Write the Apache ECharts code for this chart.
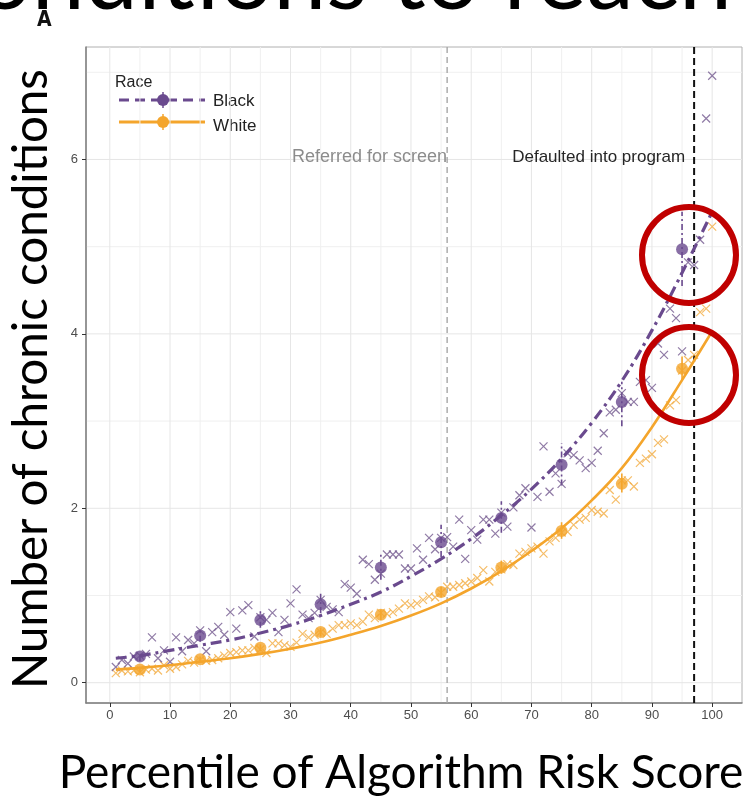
<!DOCTYPE html>
<html>
<head>
<meta charset="utf-8">
<script src="https://cdn.jsdelivr.net/npm/echarts@6/dist/echarts.min.js"></script>
<style>
  html, body { margin: 0; padding: 0; background: #fff; }
  #chart { width: 750px; height: 796px; }
</style>
</head>
<body>
<div id="chart"></div>
<script>
// Chronic conditions by percentile of algorithm risk score, split by race.

// Per-percentile averages (percentiles 1..100)
const blackByPercentile = [
  0.18, 0.26, 0.22, 0.30, 0.31, 0.33, 0.52, 0.28, 0.37, 0.24,
  0.52, 0.36, 0.49, 0.45, 0.60, 0.36, 0.58, 0.64, 0.55, 0.81,
  0.62, 0.83, 0.89, 0.53, 0.75, 0.72, 0.80, 0.58, 0.72, 0.91,
  1.07, 0.78, 0.74, 0.80, 0.95, 0.87, 0.84, 0.81, 1.13, 1.09,
  1.02, 1.41, 1.36, 1.18, 1.25, 1.47, 1.47, 1.47, 1.31, 1.31,
  1.54, 1.41, 1.66, 1.53, 1.66, 1.67, 1.56, 1.87, 1.42, 1.75,
  1.64, 1.87, 1.87, 1.71, 1.95, 1.79, 2.01, 2.15, 2.23, 1.78,
  2.13, 2.71, 2.19, 2.40, 2.28, 2.63, 2.61, 2.55, 2.46, 2.52,
  2.66, 2.86, 3.10, 3.13, 3.32, 3.22, 3.22, 3.45, 3.47, 3.38,
  3.89, 3.76, 4.29, 4.18, 3.80, 4.82, 4.79, 5.08, 6.47, 6.96
];
const whiteByPercentile = [
  0.11, 0.14, 0.13, 0.14, 0.12, 0.15, 0.16, 0.14, 0.20, 0.16,
  0.18, 0.21, 0.25, 0.23, 0.26, 0.25, 0.26, 0.28, 0.31, 0.34,
  0.35, 0.37, 0.37, 0.40, 0.38, 0.34, 0.45, 0.45, 0.43, 0.41,
  0.46, 0.56, 0.52, 0.55, 0.58, 0.56, 0.62, 0.66, 0.66, 0.68,
  0.66, 0.70, 0.78, 0.74, 0.80, 0.79, 0.81, 0.85, 0.91, 0.89,
  0.91, 0.95, 0.99, 0.98, 1.03, 1.10, 1.10, 1.12, 1.14, 1.16,
  1.20, 1.29, 1.16, 1.27, 1.30, 1.36, 1.35, 1.48, 1.50, 1.54,
  1.56, 1.48, 1.62, 1.66, 1.72, 1.73, 1.81, 1.87, 1.89, 1.98,
  1.96, 1.94, 2.21, 2.10, 2.32, 2.32, 2.25, 2.52, 2.57, 2.62,
  2.75, 2.79, 3.18, 3.24, 3.58, 3.70, 3.76, 4.25, 4.29, 5.23
];

// Fitted curves
const fitX     = [1, 5, 10, 15, 20, 25, 30, 35, 40, 45, 50, 55, 60, 65, 70, 75, 80, 85, 90, 95, 100];
const fitBlack = [0.28, 0.31, 0.37, 0.43, 0.49, 0.57, 0.66, 0.77, 0.90, 1.04, 1.22, 1.42, 1.65, 1.92, 2.22, 2.57, 2.98, 3.46, 4.04, 4.70, 5.40];
const fitWhite = [0.15, 0.17, 0.20, 0.24, 0.28, 0.33, 0.39, 0.46, 0.55, 0.65, 0.77, 0.91, 1.08, 1.28, 1.51, 1.77, 2.09, 2.46, 2.93, 3.47, 4.03];

// Decile means with intervals
const decileX   = [5, 15, 25, 35, 45, 55, 65, 75, 85, 95];
const blackMean = [0.30, 0.54, 0.72, 0.90, 1.32, 1.61, 1.89, 2.50, 3.22, 4.97];
const blackLow  = [0.25, 0.47, 0.63, 0.80, 1.18, 1.44, 1.72, 2.26, 2.94, 4.55];
const blackHigh = [0.35, 0.61, 0.82, 1.02, 1.48, 1.81, 2.08, 2.75, 3.45, 5.40];
const whiteMean = [0.15, 0.27, 0.40, 0.58, 0.78, 1.04, 1.32, 1.74, 2.28, 3.60];
const whiteLow  = [0.12, 0.24, 0.36, 0.53, 0.72, 0.98, 1.25, 1.65, 2.18, 3.46];
const whiteHigh = [0.18, 0.30, 0.44, 0.63, 0.84, 1.10, 1.40, 1.84, 2.40, 3.74];

// Program thresholds and their captions
const thresholdX    = [56, 97];
const thresholdText = ['Referred for screen', 'Defaulted into program'];

// Ticks and grid lines
const xTicks  = [0, 10, 20, 30, 40, 50, 60, 70, 80, 90, 100];
const xMinor  = [5, 15, 25, 35, 45, 55, 65, 75, 85, 95];
const yTicks  = [0, 2, 4, 6];
const yMinor  = [1, 3, 5, 7];

// ---------------------------------------------------------------
const PURPLE = '#6a4a8e';
const ORANGE = '#f4a52c';
const X_MIN = -3.95, X_MAX = 104.95;
const Y_MIN = -0.233, Y_MAX = 7.29;
const CAPTION_Y = 6.03;

const pctIndex = blackByPercentile.map((_, i) => i + 1);
const pair = (xs, ys) => xs.map((x, i) => [x, ys[i]]);

const gridRows = []
  .concat(xMinor.map(v => [v, 0, 0, 0]))
  .concat(yMinor.map(v => [0, v, 1, 0]))
  .concat(xTicks.map(v => [v, 0, 0, 1]))
  .concat(yTicks.map(v => [0, v, 1, 1]));

function renderGridLine(params, api) {
  const vertical = api.value(2) === 0;
  const major = api.value(3) === 1;
  let a, b;
  if (vertical) {
    a = api.coord([api.value(0), Y_MIN]);
    b = api.coord([api.value(0), Y_MAX]);
  } else {
    a = api.coord([X_MIN, api.value(1)]);
    b = api.coord([X_MAX, api.value(1)]);
  }
  return {
    type: 'line',
    shape: { x1: a[0], y1: a[1], x2: b[0], y2: b[1] },
    style: { stroke: major ? '#e6e6e6' : '#f0f0f0', lineWidth: 1 }
  };
}

function renderThreshold(params, api) {
  const a = api.coord([api.value(0), Y_MIN]);
  const b = api.coord([api.value(0), Y_MAX]);
  const dark = params.dataIndex === 1;
  return {
    type: 'line',
    shape: { x1: a[0], y1: a[1], x2: b[0], y2: b[1] },
    style: {
      stroke: dark ? '#111' : '#a6a6a6',
      lineWidth: dark ? 2 : 1.4,
      lineDash: dark ? [7, 4] : [6, 4]
    }
  };
}

function renderCaption(params, api) {
  const i = params.dataIndex;
  const p = api.coord([api.value(0), api.value(1)]);
  const dark = i === 1;
  return {
    type: 'text',
    x: p[0] + (dark ? -9 : 0),
    y: p[1],
    style: {
      text: thresholdText[i],
      align: 'right',
      verticalAlign: 'middle',
      font: (dark ? '17px' : '18px') + ' "Liberation Sans", Arial, sans-serif',
      fill: dark ? '#262626' : '#8c8c8c'
    }
  };
}

function errorBarRenderer(color, dash) {
  return function (params, api) {
    const lo = api.coord([api.value(0), api.value(2)]);
    const hi = api.coord([api.value(0), api.value(3)]);
    return {
      type: 'line',
      shape: { x1: lo[0], y1: lo[1], x2: hi[0], y2: hi[1] },
      style: { stroke: color, lineWidth: 1.6, lineDash: dash }
    };
  };
}

const crossSymbol = 'path://M0,0L10,10M10,0L0,10';

const chart = echarts.init(document.getElementById('chart'), null, { renderer: 'canvas' });

chart.setOption({
  animation: false,
  backgroundColor: '#fff',
  grid: {
    left: 86, right: 8, top: 47, bottom: 93,
    show: true, borderColor: '#b0b0b0', borderWidth: 1,
    backgroundColor: '#fff',
    containLabel: false,
    outerBoundsMode: 'none'
  },
  xAxis: {
    type: 'value', min: X_MIN, max: X_MAX,
    splitLine: { show: false },
    axisLine: { show: true, onZero: false, lineStyle: { color: '#808080', width: 1.5 } },
    axisTick: { show: true, customValues: xTicks, length: 4, lineStyle: { color: '#333', width: 1 } },
    axisLabel: {
      customValues: xTicks, margin: 6, fontSize: 13, color: '#4d4d4d',
      fontFamily: '"Liberation Sans", Arial, sans-serif'
    },
    name: 'Percentile of Algorithm Risk Score',
    nameLocation: 'middle',
    nameGap: 47,
    nameTextStyle: {
      fontFamily: 'Lato, "Open Sans", sans-serif', fontSize: 46, color: '#000',
      padding: [0, 26, 0, 0]
    }
  },
  yAxis: {
    type: 'value', min: Y_MIN, max: Y_MAX,
    splitLine: { show: false },
    axisLine: { show: true, onZero: false, lineStyle: { color: '#808080', width: 1.5 } },
    axisTick: { show: true, customValues: yTicks, length: 4, lineStyle: { color: '#333', width: 1 } },
    axisLabel: {
      customValues: yTicks, margin: 8, fontSize: 13, color: '#4d4d4d',
      fontFamily: '"Liberation Sans", Arial, sans-serif'
    },
    name: 'Number of chronic conditions',
    nameLocation: 'middle',
    nameRotate: 90,
    nameGap: 30,
    nameTextStyle: { fontFamily: 'Lato, "Open Sans", sans-serif', fontSize: 47.5, color: '#000', padding: [0, 8, 0, 0] }
  },
  series: [
    {
      name: 'grid lines', type: 'custom', silent: true, z: 0,
      data: gridRows, renderItem: renderGridLine
    },
    {
      name: 'thresholds', type: 'custom', silent: true, z: 1,
      data: thresholdX.map(v => [v, 0]), renderItem: renderThreshold
    },
    {
      name: 'captions', type: 'custom', silent: true, z: 1,
      data: thresholdX.map(v => [v, CAPTION_Y]),
      renderItem: renderCaption
    },
    {
      name: 'White percentiles', type: 'scatter', symbol: crossSymbol, symbolSize: 8,
      data: pair(pctIndex, whiteByPercentile),
      itemStyle: { color: 'none', borderColor: '#f2ad42', borderWidth: 1.2 }
    },
    {
      name: 'Black percentiles', type: 'scatter', symbol: crossSymbol, symbolSize: 8,
      data: pair(pctIndex, blackByPercentile),
      itemStyle: { color: 'none', borderColor: '#73598f', borderWidth: 1.2 }
    },
    {
      name: 'White fit', type: 'line', smooth: 0.4, showSymbol: false,
      data: pair(fitX, fitWhite),
      lineStyle: { color: ORANGE, width: 2.6 }
    },
    {
      name: 'Black fit', type: 'line', smooth: 0.4, showSymbol: false,
      data: pair(fitX, fitBlack),
      lineStyle: { color: PURPLE, width: 3.2, type: [11, 5, 3, 5] }
    },
    {
      name: 'White interval', type: 'custom', silent: true,
      data: decileX.map((x, i) => [x, whiteMean[i], whiteLow[i], whiteHigh[i]]),
      renderItem: errorBarRenderer(ORANGE, null)
    },
    {
      name: 'Black interval', type: 'custom', silent: true,
      data: decileX.map((x, i) => [x, blackMean[i], blackLow[i], blackHigh[i]]),
      renderItem: errorBarRenderer(PURPLE, [6, 3, 2, 3])
    },
    {
      name: 'White', type: 'scatter', symbol: 'circle', symbolSize: 12,
      data: pair(decileX, whiteMean), itemStyle: { color: ORANGE }
    },
    {
      name: 'Black', type: 'scatter', symbol: 'circle', symbolSize: 12,
      data: pair(decileX, blackMean), itemStyle: { color: PURPLE }
    }
  ],
  graphic: [
    // slide heading running off the top edge
    {
      type: 'text', left: -22, top: -69, z: 50,
      style: { text: 'onditions to reach', font: '95px Lato, sans-serif', fill: '#000' }
    },
    {
      type: 'text', left: 37, top: 10, z: 51,
      style: { text: 'A', font: 'bold 21px "DejaVu Sans Condensed", "DejaVu Sans", sans-serif', fill: '#111' }
    },
    // legend
    {
      type: 'group', left: 115, top: 75, z: 60,
      children: [
        { type: 'text', x: 0, y: 0, style: { text: 'Race', font: '16px "Liberation Sans", Arial, sans-serif', fill: '#222' } },
        { type: 'line', shape: { x1: 4, y1: 25, x2: 90, y2: 25 }, style: { stroke: PURPLE, lineWidth: 3, lineDash: [10, 6] } },
        { type: 'line', shape: { x1: 48, y1: 17, x2: 48, y2: 33 }, style: { stroke: PURPLE, lineWidth: 1.5 } },
        { type: 'circle', shape: { cx: 48, cy: 25, r: 6 }, style: { fill: PURPLE } },
        { type: 'text', x: 98, y: 26, style: { text: 'Black', font: '17px "Liberation Sans", Arial, sans-serif', fill: '#222', verticalAlign: 'middle' } },
        { type: 'line', shape: { x1: 4, y1: 47, x2: 90, y2: 47 }, style: { stroke: ORANGE, lineWidth: 3 } },
        { type: 'line', shape: { x1: 48, y1: 39, x2: 48, y2: 55 }, style: { stroke: ORANGE, lineWidth: 1.5 } },
        { type: 'circle', shape: { cx: 48, cy: 47, r: 6 }, style: { fill: ORANGE } },
        { type: 'text', x: 98, y: 51, style: { text: 'White', font: '17px "Liberation Sans", Arial, sans-serif', fill: '#222', verticalAlign: 'middle' } }
      ]
    },
    // highlight rings around the top-decile points
    {
      type: 'ellipse', z: 70,
      shape: { cx: 689, cy: 255, rx: 47, ry: 48 },
      style: { fill: 'none', stroke: '#c00000', lineWidth: 6 }
    },
    {
      type: 'ellipse', z: 70,
      shape: { cx: 689, cy: 375, rx: 47, ry: 48 },
      style: { fill: 'none', stroke: '#c00000', lineWidth: 6 }
    }
  ]
});
</script>
</body>
</html>
